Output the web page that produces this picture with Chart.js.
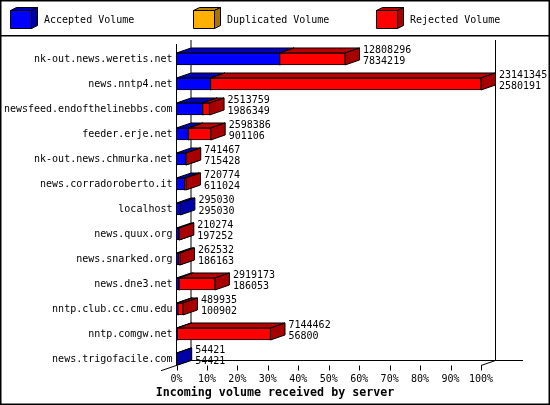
<!DOCTYPE html>
<html><head><meta charset="utf-8">
<script src="https://cdn.jsdelivr.net/npm/chart.js@4"></script>
<style>html,body{margin:0;padding:0;background:#fff}canvas{display:block}</style>
</head><body><canvas id="c" width="550" height="405" style="width:550px;height:405px"></canvas>
<script>
const servers = ["nk-out.news.weretis.net","news.nntp4.net","newsfeed.endofthelinebbs.com","feeder.erje.net","nk-out.news.chmurka.net","news.corradoroberto.it","localhost","news.quux.org","news.snarked.org","news.dne3.net","nntp.club.cc.cmu.edu","nntp.comgw.net","news.trigofacile.com"];
const totalVolume = [12808296,23141345,2513759,2598386,741467,720774,295030,210274,262532,2919173,489935,7144462,54421];
const acceptedVolume = [7834219,2580191,1986349,901106,715428,611024,295030,197252,186163,186053,100902,56800,54421];
const duplicatedVolume = [0,0,0,0,0,0,0,0,0,0,0,0,0];
const rejectedVolume = [4974077,20561154,527410,1697280,26039,109750,0,13022,76369,2733120,389033,7087662,0];
const percentTicks = [0,10,20,30,40,50,60,70,80,90,100];
const xMax = 23141345;
const FONT = '"DejaVu Sans Mono", monospace';
const DX = 14.5, DY = 5;
const axisEnd = xMax * 373.5 / 304.5; // scale runs on past 100% to the canvas edge

const faces = [
  {front:'#0000ff', dark:'#0000a8', top:'#0000b8'},
  {front:'#ffb000', dark:'#a87400', top:'#b88000'},
  {front:'#ff0000', dark:'#a80000', top:'#b80000'}
];

function poly(ctx, pts, fill){
  ctx.beginPath();
  pts.forEach((p,i)=> i?ctx.lineTo(p[0],p[1]):ctx.moveTo(p[0],p[1]));
  ctx.closePath();
  ctx.fillStyle = fill; ctx.fill();
  ctx.strokeStyle = '#000'; ctx.lineWidth = 1; ctx.stroke();
}
function line(ctx,x1,y1,x2,y2){
  ctx.beginPath(); ctx.moveTo(x1,y1); ctx.lineTo(x2,y2);
  ctx.strokeStyle='#000'; ctx.lineWidth=1; ctx.stroke();
}

const frame3d = {
  id:'frame3d',
  beforeDatasetsDraw(chart){
    const ctx = chart.ctx, x = chart.scales.x;
    const x0 = x.getPixelForValue(0), x1 = x.getPixelForValue(xMax);
    const yFront = 365.5, yBack = 360.5;
    const topY = 40;
    ctx.save();
    ctx.strokeStyle='#000'; ctx.lineWidth=1.5;
    ctx.strokeRect(0.75,0.75,548.5,403.5);
    ctx.fillStyle='#000'; ctx.fillRect(1,35,548,1.5);
    line(ctx,x0+DX,topY,x0+DX,yBack);
    line(ctx,x1+DX,topY,x1+DX,yBack);
    line(ctx,x0,44,x0,yFront);
    line(ctx,x0+DX,yBack,523,yBack);
    line(ctx,161,yFront+5.2,x0+DX,yBack);
    line(ctx,x1,yFront,x1+DX,yBack);
    percentTicks.forEach(p=>{
      const px = Math.round(x.getPixelForValue(p/100*xMax))+0.5;
      line(ctx,px,yFront,px,yFront+5);
    });
    servers.forEach((s,i)=>{
      [0,1,2].forEach(d=>{
        const el = chart.getDatasetMeta(d).data[i];
        if(!chart.data.datasets[d].data[i]) return;
        const p = el.getProps(['x','y','base','height']);
        const l=Math.min(p.x,p.base), r=Math.max(p.x,p.base), t=p.y-p.height/2, b=p.y+p.height/2;
        poly(ctx,[[l,t],[l+DX,t-DY],[r+DX,t-DY],[r,t]],faces[d].top);
        poly(ctx,[[r,t],[r+DX,t-DY],[r+DX,b-DY],[r,b]],faces[d].dark);
      });
    });
    ctx.restore();
  },
  afterDatasetsDraw(chart){
    const ctx = chart.ctx, x = chart.scales.x, y = chart.scales.y;
    ctx.save();
    ctx.font = '10px '+FONT; ctx.fillStyle='#000';
    ctx.textAlign='left'; ctx.textBaseline='middle';
    servers.forEach((s,i)=>{
      const px = x.getPixelForValue(totalVolume[i])+DX+3.5, py = y.getPixelForValue(i);
      ctx.fillText(String(totalVolume[i]),px,py-9);
      ctx.fillText(String(acceptedVolume[i]),px,py+2);
    });
    const legendX = [10.5,193.5,376.5];
    chart.data.datasets.forEach((ds,d)=>{
      const l=legendX[d], t=10.5, r=l+21, b=t+18, dx=6, dy=3;
      poly(ctx,[[l,t],[l+dx,t-dy],[r+dx,t-dy],[r,t]],faces[d].top);
      poly(ctx,[[r,t],[r+dx,t-dy],[r+dx,b-dy],[r,b]],faces[d].dark);
      poly(ctx,[[l,t],[r,t],[r,b],[l,b]],faces[d].front);
      ctx.fillStyle='#000';
      ctx.fillText(ds.label,l+33.5,20);
    });
    ctx.restore();
  }
};

new Chart(document.getElementById('c'),{
  type:'bar',
  data:{labels:servers,datasets:[
    {label:'Accepted Volume',data:acceptedVolume,backgroundColor:faces[0].front},
    {label:'Duplicated Volume',data:duplicatedVolume,backgroundColor:faces[1].front},
    {label:'Rejected Volume',data:rejectedVolume,backgroundColor:faces[2].front}
  ].map(d=>Object.assign(d,{borderColor:'#000',borderWidth:1,borderSkipped:false,barThickness:12}))},
  plugins:[frame3d],
  options:{
    indexAxis:'y',responsive:false,animation:false,
    layout:{padding:{top:46.5,right:0,left:0,bottom:0}},
    plugins:{
      legend:{display:false},tooltip:{enabled:false},
      title:{display:true,position:'bottom',text:'Incoming volume received by server',color:'#000',
        font:{family:FONT,size:11.67,weight:'bold'},padding:{top:0,bottom:5.5}}
    },
    scales:{
      x:{type:'linear',stacked:true,min:0,max:axisEnd,
        afterBuildTicks(s){s.ticks=percentTicks.map(p=>({value:p/100*xMax}));},
        grid:{display:false,drawTicks:false},border:{display:false},
        ticks:{color:'#000',font:{family:FONT,size:10},padding:2,maxRotation:0,autoSkip:false,
          callback(v){return Math.round(v/xMax*100)+'%';}},
        afterFit(s){s.height=14;}
      },
      y:{type:'category',stacked:true,offset:true,
        grid:{display:false,drawTicks:false},border:{display:false},
        ticks:{color:'#000',font:{family:FONT,size:10},padding:4,autoSkip:false},
        afterFit(s){s.width=176.5;}
      }
    }
  }
});
</script></body></html>
